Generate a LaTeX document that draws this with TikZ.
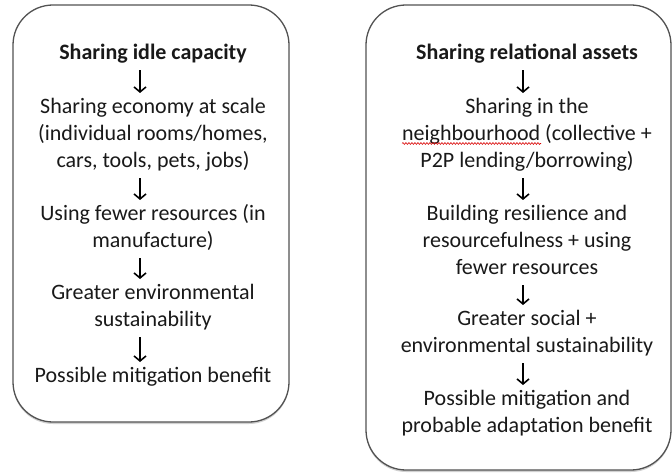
\documentclass[tikz,border=0pt]{standalone}
\usepackage{fontspec}
\setmainfont{Carlito}
\usetikzlibrary{arrows.meta,decorations.pathmorphing,shadows}
\newcommand\tsup{\rule{0pt}{17pt}}
\newcommand\tdown{\rule[-7pt]{0pt}{7pt}}
\begin{document}
\begin{tikzpicture}[x=1pt,y=-1pt,
  txt/.style={inner sep=0pt, align=center, anchor=north, text=black!90,
    font=\fontsize{22}{27}\selectfont},
  panel/.style={draw=black!68, line width=1.3pt, rounded corners=40pt, fill=white,
    drop shadow={shadow xshift=0pt, shadow yshift=-2pt, opacity=0.18, fill=black}},
  arr/.style={line width=1.6pt, black, -{Straight Barb[length=5pt,width=12pt,line width=1.6pt]},
    shorten <=4pt, shorten >=3pt}]
\useasboundingbox (0,0) rectangle (672,473);
% panels
\path[panel] (13,5) rectangle (289,422);
\path[panel] (366,5) rectangle (671,470);
% arrow columns
\coordinate (lc) at (140,0);
\coordinate (rc) at (523,0);
% left column
\node[txt] (l0) at (153,42) {\tsup\textbf{Sharing idle capacity}\tdown};
\node[txt] (l1) at (153,96) {\tsup Sharing economy at scale\\(individual rooms/homes,\\cars, tools, pets, jobs)\tdown};
\node[txt] (l2) at (153,203) {\tsup Using fewer resources (in\\manufacture)\tdown};
\node[txt] (l3) at (153,282) {\tsup Greater environmental\\sustainability\tdown};
\node[txt] (l4) at (153,365) {\tsup Possible mitigation benefit\tdown};
% right column
\node[txt] (r0) at (527,42) {\tsup\textbf{Sharing relational assets}\tdown};
\node[txt] (r1) at (527,96) {\tsup Sharing in the\\neighbourhood (collective +\\P2P lending/borrowing)\tdown};
\node[txt] (r2) at (527,203) {\tsup Building resilience and\\resourcefulness + using\\fewer resources\tdown};
\node[txt] (r3) at (527,308) {\tsup Greater social +\\environmental sustainability\tdown};
\node[txt] (r4) at (527,388) {\tsup Possible mitigation and\\probable adaptation benefit\tdown};
% arrows
\draw[arr] (l0.south -| lc) -- (l1.north -| lc);
\draw[arr] (l1.south -| lc) -- (l2.north -| lc);
\draw[arr] (l2.south -| lc) -- (l3.north -| lc);
\draw[arr] (l3.south -| lc) -- (l4.north -| lc);
\draw[arr] (r0.south -| rc) -- (r1.north -| rc);
\draw[arr] (r1.south -| rc) -- (r2.north -| rc);
\draw[arr] (r2.south -| rc) -- (r3.north -| rc);
\draw[arr] (r3.south -| rc) -- (r4.north -| rc);
% spell-check underline
\draw[red!85!black, line width=0.6pt, decorate,
  decoration={snake, amplitude=0.9pt, segment length=3pt}] (402,143.5) -- (541,143.5);
\end{tikzpicture}
\end{document}
